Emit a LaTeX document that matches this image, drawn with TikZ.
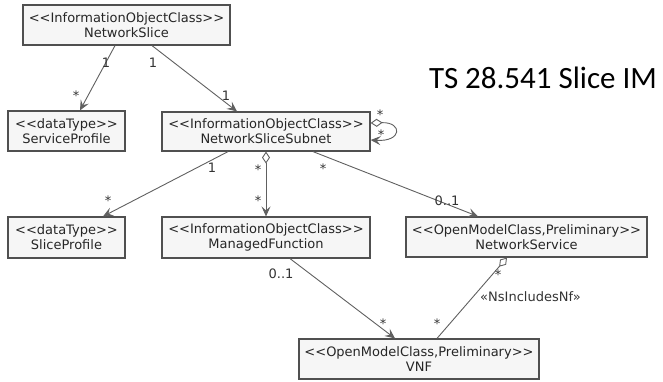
\documentclass[tikz,border=0pt]{standalone}
\usepackage{fontspec}
\setmainfont{DejaVu Sans}
\newfontfamily\titlefont{Carlito}
\usetikzlibrary{arrows.meta}
\definecolor{boxfill}{HTML}{F6F6F6}
\definecolor{boxline}{HTML}{505050}
\definecolor{linkline}{HTML}{606060}
\newcommand{\stereo}[1]{<\kern0pt<#1>\kern0pt>}
\tikzset{
  umlclass/.style={draw=boxline, fill=boxfill, line width=1.2pt, rectangle, minimum height=40pt, inner sep=0pt, align=center, text=black!85, font=\fontsize{13}{15}\selectfont},
  assoc/.style={draw=linkline, line width=0.9pt, -{Stealth[length=10pt,width=9pt,inset=4pt]}},
  aggr/.style={draw=linkline, line width=0.9pt, {Diamond[open,length=12pt,width=8pt]}-{Stealth[length=10pt,width=9pt,inset=4pt]}},
  plainaggr/.style={draw=linkline, line width=0.9pt, {Diamond[open,length=12pt,width=8pt]}-},
  mult/.style={inner sep=0pt, text=black!80, font=\fontsize{13}{15}\selectfont}
}
\begin{document}
\begin{tikzpicture}[x=1pt, y=-1pt]
  \useasboundingbox (0,0) rectangle (663,381);
  \node (ns) [umlclass, minimum width=207pt] at (126.5,25) {\stereo{InformationObjectClass}\\NetworkSlice};
  \node (sp) [umlclass, minimum width=117pt] at (66.5,131) {\stereo{dataType}\\ServiceProfile};
  \node (nss) [umlclass, minimum width=208pt, minimum height=39pt] at (266,131.5) {\stereo{InformationObjectClass}\\NetworkSliceSubnet};
  \node (slp) [umlclass, minimum width=117pt, minimum height=41pt] at (66.5,237.5) {\stereo{dataType}\\SliceProfile};
  \node (mf) [umlclass, minimum width=208pt, minimum height=41pt] at (266,237.5) {\stereo{InformationObjectClass}\\ManagedFunction};
  \node (nsv) [umlclass, minimum width=241pt] at (526.5,237) {\stereo{OpenModelClass,Preliminary}\\NetworkService};
  \node (vnf) [umlclass, minimum width=240pt] at (419,359) {\stereo{OpenModelClass,Preliminary}\\VNF};
  \node (title) [anchor=base, inner sep=0pt, font={\titlefont\fontsize{31}{36}\selectfont}] at (543,88) {TS 28.541 Slice IM};

  \draw[assoc] ([xshift=-11.5pt]ns.south) -- ([xshift=13.5pt]sp.north);
  \draw[assoc] ([xshift=25.5pt]ns.south) -- ([xshift=-29pt]nss.north);
  \draw[aggr] ([yshift=8.5pt]nss.east) .. controls +(32,-1) and +(32,2) .. ([yshift=-8.5pt]nss.east);
  \draw[assoc] ([xshift=-38pt]nss.south) -- ([xshift=36.5pt]slp.north);
  \draw[aggr] (nss.south) -- (mf.north);
  \draw[assoc] ([xshift=47pt]nss.south) -- ([xshift=-48.5pt]nsv.north);
  \draw[assoc] ([xshift=24pt]mf.south) -- ([xshift=-24pt]vnf.north);
  \draw[plainaggr] ([xshift=-19.5pt]nsv.south) -- ([xshift=18pt]vnf.north);

  \node (m1) [mult] at (106,63) {1};
  \node (m2) [mult] at (76,95.6) {*};
  \node (m3) [mult] at (153,63) {1};
  \node (m4) [mult] at (226,96) {1};
  \node (m5) [mult] at (380,114.6) {*};
  \node (m6) [mult] at (381,134.6) {*};
  \node (m7) [mult] at (212,168) {1};
  \node (m8) [mult] at (108,200.6) {*};
  \node (m9) [mult] at (258,169.6) {*};
  \node (m10) [mult] at (258,200.6) {*};
  \node (m11) [mult] at (323,168.6) {*};
  \node (m12) [mult] at (447,201) {0..1};
  \node (m13) [mult] at (281,274) {0..1};
  \node (m14) [mult] at (383,323.6) {*};
  \node (m15) [mult] at (498,274.6) {*};
  \node (m16) [mult] at (437,323.6) {*};
  \node (incl) [mult] at (530.5,297) {«NsIncludesNf»};
\end{tikzpicture}
\end{document}
